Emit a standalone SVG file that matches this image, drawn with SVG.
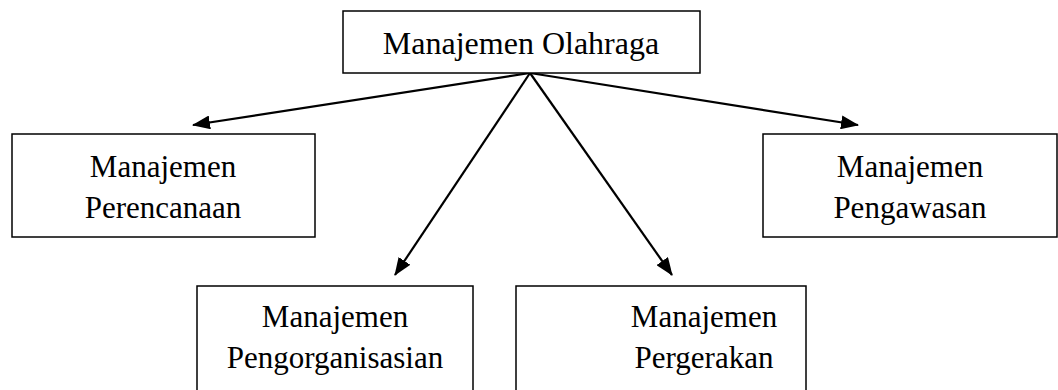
<svg xmlns="http://www.w3.org/2000/svg" width="1058" height="390" viewBox="0 0 1058 390">
  <style>
    .box { fill: #ffffff; stroke: #000000; stroke-width: 1.5; }
    .lbl { font-family: "Liberation Serif", "Times New Roman", serif; font-size: 31px; fill: #000000; text-anchor: middle; }
    .title { font-size: 32px; }
    .conn { stroke: #000000; stroke-width: 2.2; fill: none; marker-end: url(#arrow); }
  </style>
  <defs>
    <marker id="arrow" markerUnits="userSpaceOnUse" markerWidth="18" markerHeight="14" viewBox="0 0 18 14" refX="17" refY="7" orient="auto">
      <path d="M0,0 L18,7 L0,14 Z" fill="#000000"/>
    </marker>
  </defs>
  <rect width="1058" height="390" fill="#ffffff"/>

  <g id="connectors">
    <line class="conn" x1="530" y1="73" x2="193" y2="125"/>
    <line class="conn" x1="530" y1="73" x2="858" y2="125"/>
    <line class="conn" x1="530" y1="73" x2="395" y2="275"/>
    <line class="conn" x1="530" y1="73" x2="672" y2="275"/>
  </g>

  <g id="node-olahraga">
    <rect class="box" x="343" y="11" width="357" height="62"/>
    <text class="lbl title" x="521" y="54">Manajemen Olahraga</text>
  </g>

  <g id="node-perencanaan">
    <rect class="box" x="12" y="134" width="303" height="103"/>
    <text class="lbl" x="163" y="177">Manajemen</text>
    <text class="lbl" x="163" y="218">Perencanaan</text>
  </g>

  <g id="node-pengawasan">
    <rect class="box" x="763" y="134" width="294" height="103"/>
    <text class="lbl" x="910" y="177">Manajemen</text>
    <text class="lbl" x="910" y="218">Pengawasan</text>
  </g>

  <g id="node-pengorganisasian">
    <rect class="box" x="197" y="286" width="276" height="110"/>
    <text class="lbl" x="335" y="327">Manajemen</text>
    <text class="lbl" x="335" y="368">Pengorganisasian</text>
  </g>

  <g id="node-pergerakan">
    <rect class="box" x="516" y="286" width="290" height="110"/>
    <text class="lbl" x="704" y="327">Manajemen</text>
    <text class="lbl" x="704" y="368">Pergerakan</text>
  </g>
</svg>
